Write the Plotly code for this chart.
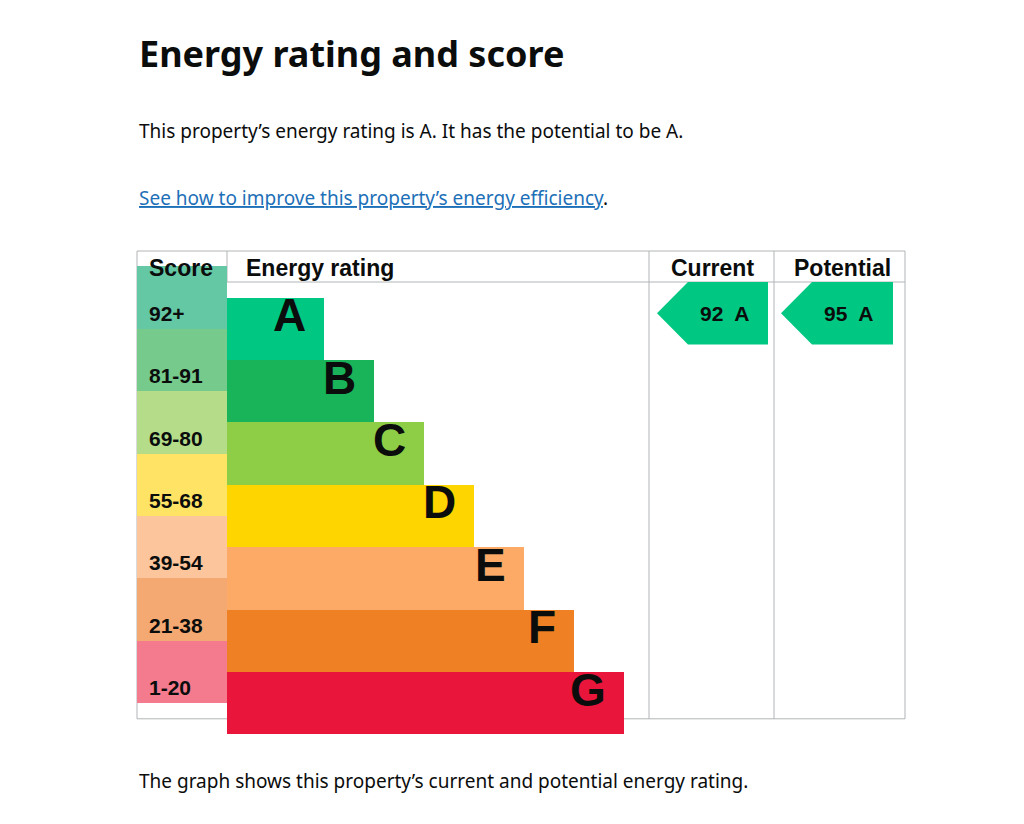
import plotly.graph_objects as go

bands = ["A", "B", "C", "D", "E", "F", "G"]
score_ranges = ["92+", "81-91", "69-80", "55-68", "39-54", "21-38", "1-20"]
band_colours = ["#00c781", "#19b459", "#8dce46", "#ffd500", "#fcaa65", "#ef8023", "#e9153b"]
score_colours = ["#64c8a5", "#75ca8c", "#b5dd89", "#ffe365", "#fcc59c", "#f4a973", "#f47a8d"]
current_score, current_band = 92, "A"
potential_score, potential_band = 95, "A"

# page geometry (in pixels, axes mapped 1:1 to the page)
left, score_w, bar_x = 129, 90, 219
top_head, top_rows, row_h = 243, 274, 62.4
bar_len0, bar_step = 97, 50
cur_x0, cur_x1, pot_x0, pot_x1 = 649, 760, 773, 885
right = 897
grey = "#b1b4b6"
FONT = "Liberation Sans"

centres = [top_rows + row_h * (i + 0.5) for i in range(len(bands))]
lengths = [bar_len0 + bar_step * i for i in range(len(bands))]

fig = go.Figure()
fig.add_trace(go.Bar(y=centres, x=[score_w] * len(bands), base=left, orientation="h",
                     width=row_h, marker=dict(color=score_colours, line=dict(width=0))))
fig.add_trace(go.Bar(y=centres, x=lengths, base=bar_x, orientation="h",
                     width=row_h, marker=dict(color=band_colours, line=dict(width=0))))

for i, b in enumerate(bands):
    fig.add_annotation(x=bar_x + lengths[i] - 16, y=centres[i] + 2, text="<b>%s</b>" % b,
                       xanchor="right", showarrow=False, font=dict(family=FONT, size=46, color="#0b0c0c"))
    fig.add_annotation(x=left + 10, y=centres[i], text="<b>%s</b>" % score_ranges[i],
                       xanchor="left", showarrow=False, font=dict(family=FONT, size=21, color="#0b0c0c"))


def arrow(x0, x1, band, score):
    i = bands.index(band)
    y0, y1 = top_rows + row_h * i, top_rows + row_h * (i + 1)
    tip = 31
    fig.add_trace(go.Scatter(x=[x0, x0 + tip, x1, x1, x0 + tip, x0],
                             y=[(y0 + y1) / 2, y0, y0, y1, y1, (y0 + y1) / 2],
                             fill="toself", fillcolor=band_colours[i], mode="lines",
                             line=dict(width=0), hoverinfo="skip"))
    fig.add_annotation(x=(x0 + tip + x1) / 2 - 4, y=(y0 + y1) / 2, text="<b>%d  %s</b>" % (score, band),
                       showarrow=False, font=dict(family=FONT, size=21, color="#0b0c0c"))


arrow(cur_x0, cur_x1, current_band, current_score)
arrow(pot_x0, pot_x1, potential_band, potential_score)

bottom = top_rows + row_h * len(bands)
# table lines
lines = [(left, top_head, right, top_head), (left, top_rows, right, top_rows),
         (left, top_head, left, bottom), (right, top_head, right, bottom),
         (left, bottom, right, bottom), (bar_x, top_head, bar_x, top_rows),
         (641, top_head, 641, bottom), (766, top_head, 766, bottom)]
for x0, y0, x1, y1 in lines:
    fig.add_shape(type="line", x0=x0, y0=y0, x1=x1, y1=y1, line=dict(color=grey, width=1), layer="below")

for x, t, anc in [(left + 10, "Score", "left"), (bar_x + 17, "Energy rating", "left"),
                  (704, "Current", "center"), (834, "Potential", "center")]:
    fig.add_annotation(x=x, y=(top_head + top_rows) / 2 + 1, text="<b>%s</b>" % t, xanchor=anc,
                       showarrow=False, font=dict(family=FONT, size=23, color="#0b0c0c"))

fig.add_annotation(x=129, y=45, text="<b>Energy rating and score</b>", xanchor="left", showarrow=False,
                   font=dict(family="Noto Sans", size=36, color="#0b0c0c"))
fig.add_annotation(x=129, y=123, text="This property’s energy rating is A. It has the potential to be A.",
                   xanchor="left", showarrow=False, font=dict(family="Noto Sans", size=19, color="#0b0c0c"))
fig.add_annotation(x=129, y=190, text="<span style='color:#1d70b8'><u>See how to improve this property’s energy efficiency</u></span>.",
                   xanchor="left", showarrow=False, font=dict(family="Noto Sans", size=19, color="#0b0c0c"))
fig.add_annotation(x=129, y=773, text="The graph shows this property’s current and potential energy rating.",
                   xanchor="left", showarrow=False, font=dict(family="Noto Sans", size=19, color="#0b0c0c"))

fig.update_layout(width=1024, height=824, margin=dict(l=0, r=0, t=0, b=0), showlegend=False,
                  paper_bgcolor="white", plot_bgcolor="white", bargap=0,
                  xaxis=dict(range=[0, 1024], visible=False, fixedrange=True),
                  yaxis=dict(range=[824, 0], visible=False, fixedrange=True))
fig.write_html("out.html", config={"displayModeBar": False})
